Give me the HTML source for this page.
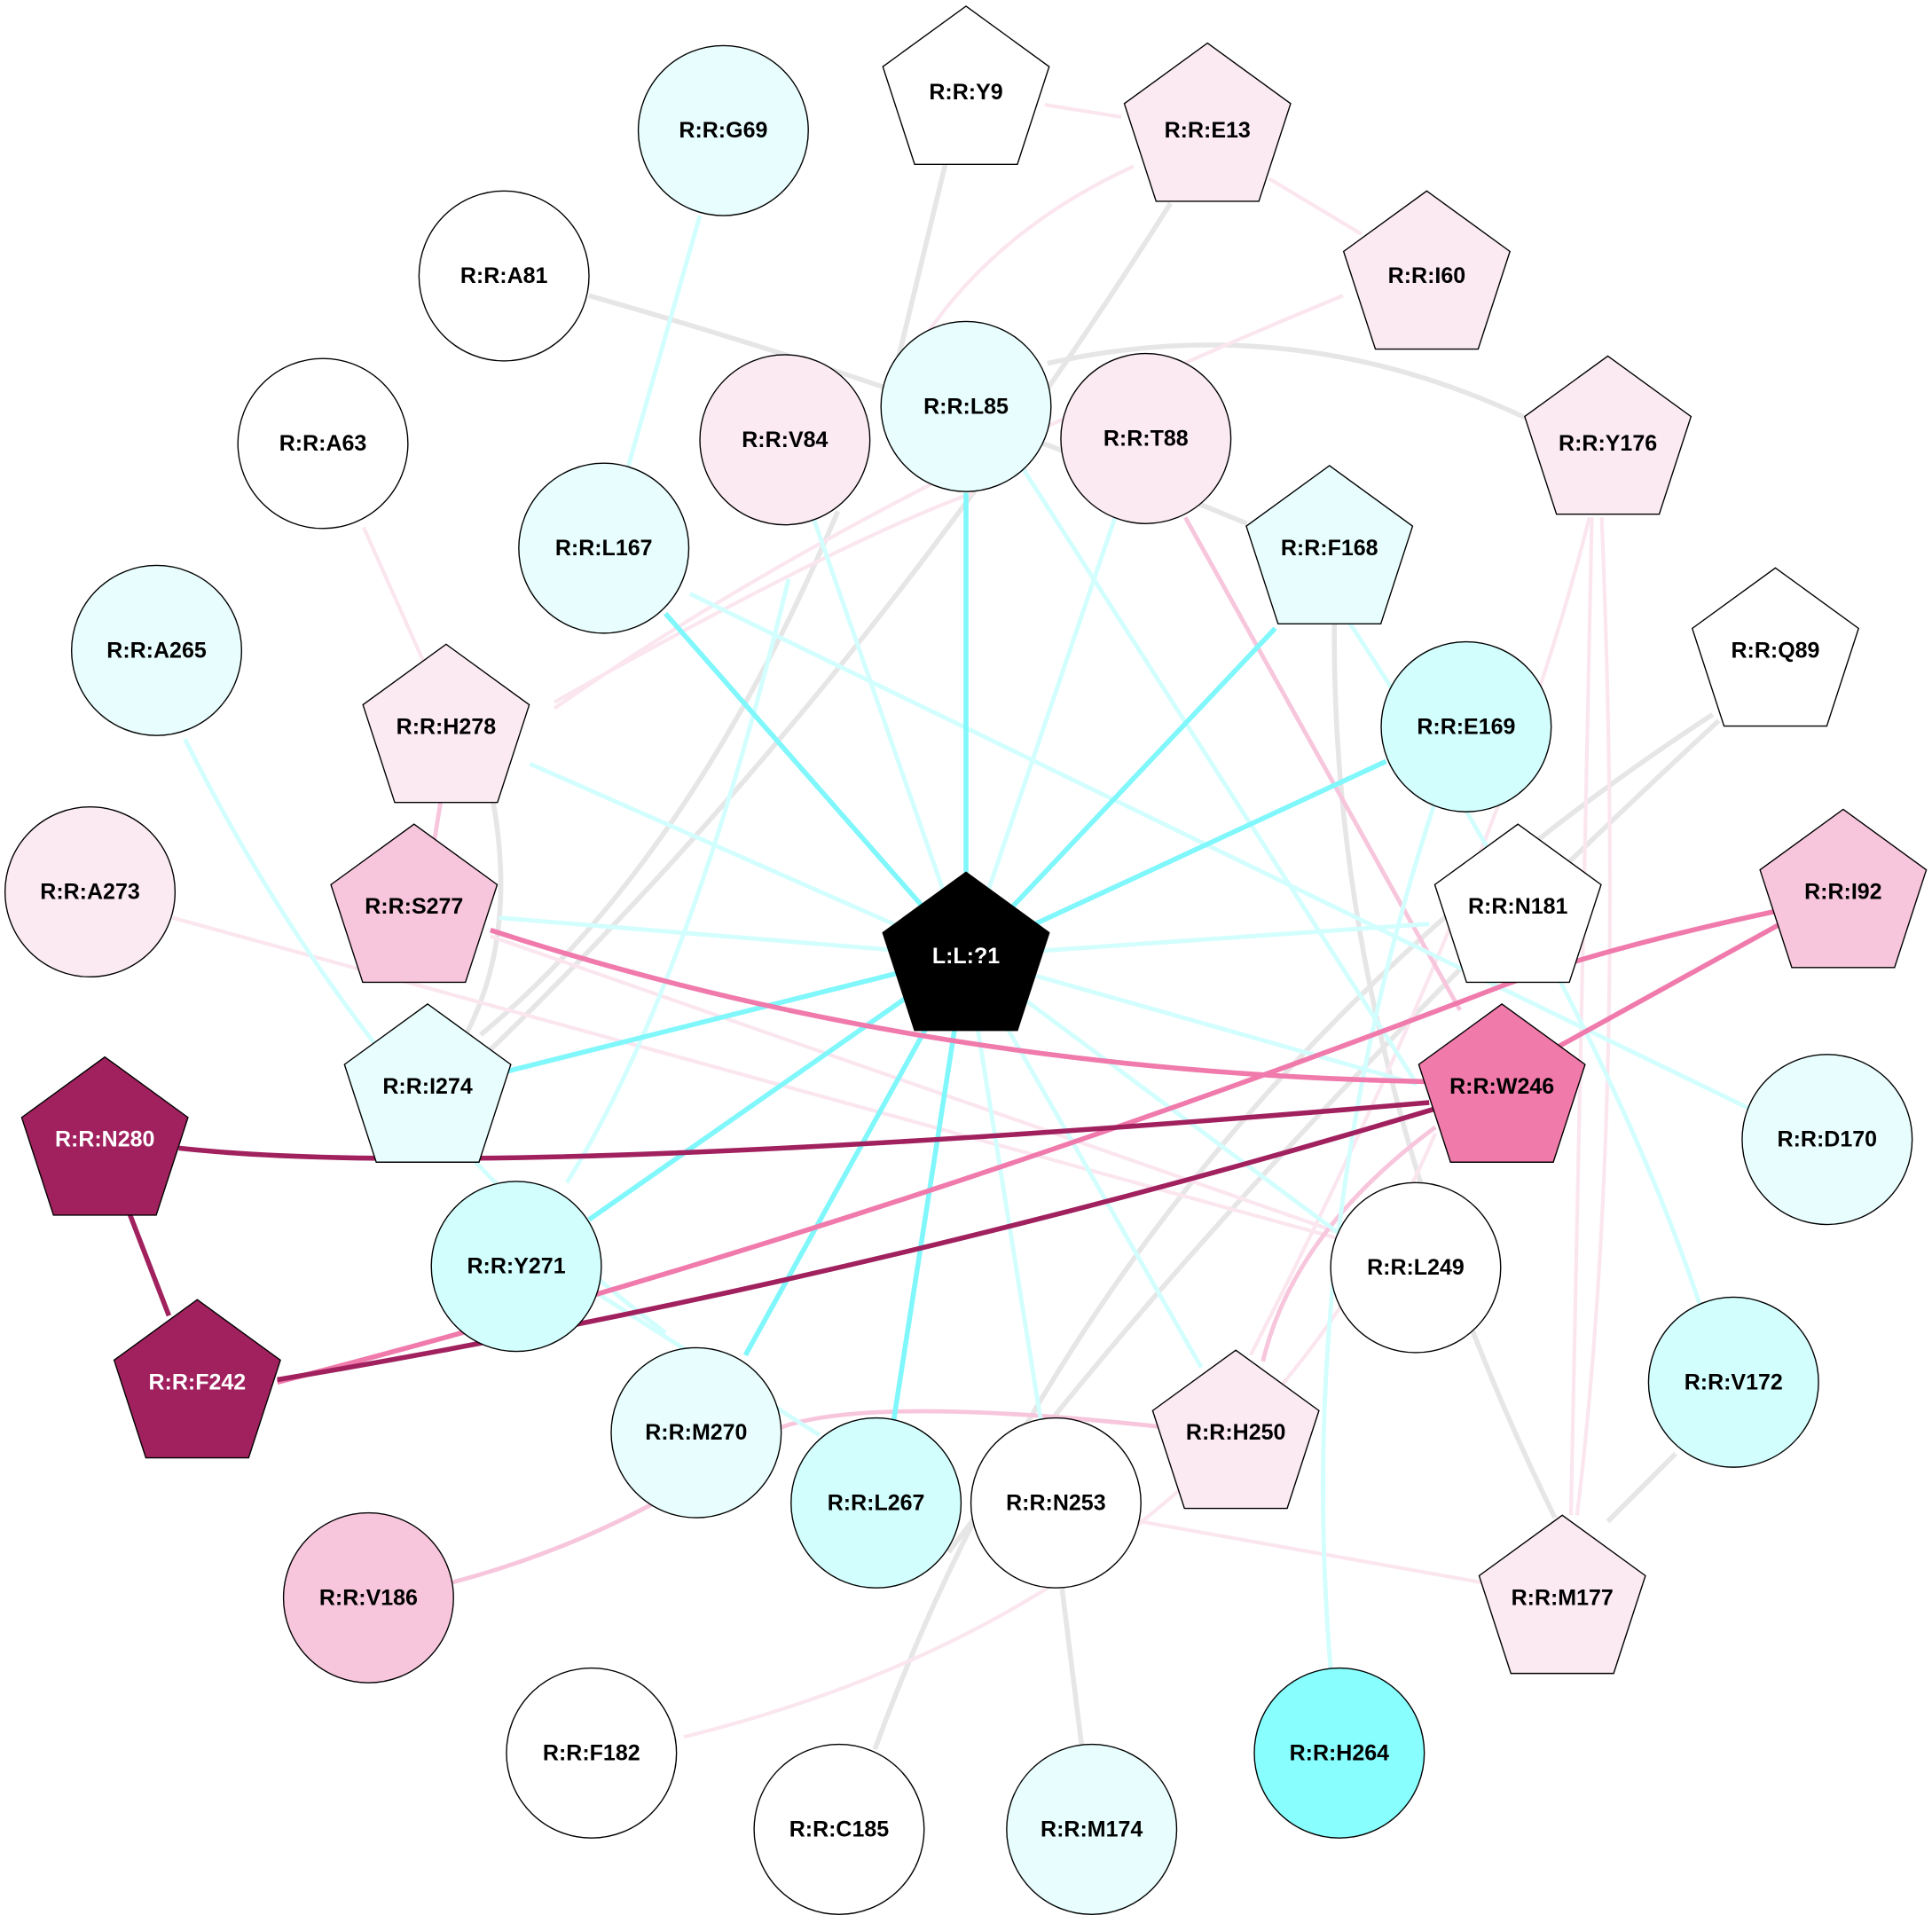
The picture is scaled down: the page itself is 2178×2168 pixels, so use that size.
<!DOCTYPE html>
<html><head><style>html,body{margin:0;padding:0;background:#fff}svg{display:block}</style></head>
<body>
<svg width="2178" height="2168" viewBox="0 0 1568 1561" xmlns="http://www.w3.org/2000/svg" font-family="Liberation Sans, Arial, sans-serif" font-weight="bold" font-size="18">
<g fill="none" stroke-width="3">
<!-- gray -->
<g stroke="#e6e6e6" stroke-width="4">
<path d="M768,130 L722,320"/>
<path d="M950,165 Q700,560 395,855"/>
<path d="M680,415 Q560,700 390,840"/>
<path d="M478,240 Q760,320 1012,425"/>
<path d="M850,295 Q1050,250 1240,340"/>
<path d="M1083,505 Q1080,860 1262,1232"/>
<path d="M1390,580 Q900,900 710,1420"/>
<path d="M1395,585 Q1000,950 770,1260"/>
<path d="M400,650 Q420,760 378,840"/>
<path d="M862,1290 L878,1418"/>
<path d="M1360,1180 L1305,1235"/>
</g>
<!-- light pink -->
<g stroke="#fbe6ef" stroke-width="3">
<path d="M848,85 L910,95"/>
<path d="M1030,145 L1105,190"/>
<path d="M920,135 Q800,190 740,290"/>
<path d="M450,570 Q680,440 790,400"/>
<path d="M450,575 Q700,400 1090,240"/>
<path d="M295,428 L345,540"/>
<path d="M140,745 L1085,1005"/>
<path d="M398,760 L1085,1000"/>
<path d="M1292,420 L1275,1230"/>
<path d="M1300,420 Q1320,900 1280,1230"/>
<path d="M1290,420 Q1220,700 1015,1100"/>
<path d="M555,1410 Q1000,1300 1165,920"/>
<path d="M925,1235 L1205,1285"/>
</g>
<g stroke="#f7c6dc" stroke-width="3.5">
<path d="M962,420 L1185,820"/>
<path d="M358,648 L352,685"/>
<path d="M1165,915 Q1050,1000 1025,1105"/>
<path d="M365,1285 Q500,1250 620,1165 Q680,1130 940,1158"/>
</g>
<!-- cyan -->
<g stroke="#d2fefe" stroke-width="3.5">
<path d="M784,776 L660,420"/>
<path d="M784,776 L905,420"/>
<path d="M784,776 L430,620"/>
<path d="M784,776 L405,745"/>
<path d="M784,776 L1160,750"/>
<path d="M784,776 L1150,880"/>
<path d="M784,776 L1085,1000"/>
<path d="M784,776 L975,1110"/>
<path d="M784,776 L845,1155"/>
<path d="M560,482 L1420,900"/>
<path d="M830,380 L1150,880"/>
<path d="M1095,505 Q1300,820 1380,1060"/>
<path d="M1165,650 Q1050,1000 1080,1355"/>
<path d="M568,175 L510,378"/>
<path d="M150,600 Q300,900 540,1082"/>
<path d="M485,1050 L665,1165"/>
<path d="M640,470 Q560,800 460,960"/>
</g>
<g stroke="#80f7fb" stroke-width="4">
<path d="M784,776 L540,498"/>
<path d="M784,776 L784,400"/>
<path d="M784,776 L1035,510"/>
<path d="M784,776 L1125,618"/>
<path d="M784,776 L410,870"/>
<path d="M784,776 L478,990"/>
<path d="M784,776 L605,1100"/>
<path d="M784,776 L725,1155"/>
</g>
<!-- strong pink -->
<g stroke="#ef7aab" stroke-width="4">
<path d="M398,755 Q750,870 1158,878"/>
<path d="M1440,740 Q1300,770 1220,800 Q700,1000 225,1122"/>
<path d="M1445,750 L1255,855"/>
</g>
<g stroke="#a0215e" stroke-width="4">
<path d="M145,932 Q400,960 1160,895"/>
<path d="M1165,900 Q700,1040 225,1120"/>
<path d="M105,985 L137,1068"/>
</g>
</g>
<!-- nodes -->
<g stroke="#000" stroke-width="1">
<g id="circles">
<circle cx="587" cy="106" r="69" fill="#e8fefe"/>
<circle cx="409" cy="224" r="69" fill="#fff"/>
<circle cx="262" cy="360" r="69" fill="#fff"/>
<circle cx="637" cy="357" r="69" fill="#fbeaf2"/>
<circle cx="784" cy="330" r="69" fill="#e8fefe"/>
<circle cx="930" cy="356" r="69" fill="#fbeaf2"/>
<circle cx="490" cy="445" r="69" fill="#e8fefe"/>
<circle cx="127" cy="528" r="69" fill="#e8fefe"/>
<circle cx="1190" cy="590" r="69" fill="#d2fefe"/>
<circle cx="73" cy="724" r="69" fill="#fbeaf2"/>
<circle cx="1483" cy="925" r="69" fill="#e8fefe"/>
<circle cx="419" cy="1028" r="69" fill="#d2fefe"/>
<circle cx="1149" cy="1029" r="69" fill="#fff"/>
<circle cx="1407" cy="1122" r="69" fill="#d2fefe"/>
<circle cx="565" cy="1163" r="69" fill="#e8fefe"/>
<circle cx="711" cy="1220" r="69" fill="#d2fefe"/>
<circle cx="857" cy="1220" r="69" fill="#fff"/>
<circle cx="299" cy="1297" r="69" fill="#f7c6dc"/>
<circle cx="480" cy="1423" r="69" fill="#fff"/>
<circle cx="681" cy="1485" r="69" fill="#fff"/>
<circle cx="886" cy="1485" r="69" fill="#e8fefe"/>
<circle cx="1087" cy="1423" r="69" fill="#88fefe"/>
</g>
<defs><polygon id="p" points="0,-71 67.5,-21.9 41.7,57.4 -41.7,57.4 -67.5,-21.9"/></defs>
<use href="#p" x="784" y="76" fill="#fff"/>
<use href="#p" x="980" y="106" fill="#fbeaf2"/>
<use href="#p" x="1158" y="226" fill="#fbeaf2"/>
<use href="#p" x="1305" y="360" fill="#fbeaf2"/>
<use href="#p" x="1079" y="449" fill="#e8fefe"/>
<use href="#p" x="1441" y="532" fill="#fff"/>
<use href="#p" x="362" y="594" fill="#fbeaf2"/>
<use href="#p" x="336" y="740" fill="#f7c6dc"/>
<use href="#p" x="1232" y="740" fill="#fff"/>
<use href="#p" x="1496" y="728" fill="#f7c6dc"/>
<use href="#p" x="784" y="779" fill="#000"/>
<use href="#p" x="347" y="886" fill="#e8fefe"/>
<use href="#p" x="1219" y="886" fill="#f07aaa"/>
<use href="#p" x="85" y="929" fill="#a0215e"/>
<use href="#p" x="160" y="1126" fill="#a0215e"/>
<use href="#p" x="1003" y="1167" fill="#fbeaf2"/>
<use href="#p" x="1268" y="1301" fill="#fbeaf2"/>
</g>
<g text-anchor="middle" dominant-baseline="central" fill="#000">
<text x="587" y="106">R:R:G69</text>
<text x="409" y="224">R:R:A81</text>
<text x="262" y="360">R:R:A63</text>
<text x="637" y="357">R:R:V84</text>
<text x="784" y="330">R:R:L85</text>
<text x="930" y="356">R:R:T88</text>
<text x="490" y="445">R:R:L167</text>
<text x="127" y="528">R:R:A265</text>
<text x="1190" y="590">R:R:E169</text>
<text x="73" y="724">R:R:A273</text>
<text x="1483" y="925">R:R:D170</text>
<text x="419" y="1028">R:R:Y271</text>
<text x="1149" y="1029">R:R:L249</text>
<text x="1407" y="1122">R:R:V172</text>
<text x="565" y="1163">R:R:M270</text>
<text x="711" y="1220">R:R:L267</text>
<text x="857" y="1220">R:R:N253</text>
<text x="299" y="1297">R:R:V186</text>
<text x="480" y="1423">R:R:F182</text>
<text x="681" y="1485">R:R:C185</text>
<text x="886" y="1485">R:R:M174</text>
<text x="1087" y="1423">R:R:H264</text>
<text x="784" y="75">R:R:Y9</text>
<text x="980" y="106">R:R:E13</text>
<text x="1158" y="224">R:R:I60</text>
<text x="1305" y="360">R:R:Y176</text>
<text x="1079" y="445">R:R:F168</text>
<text x="1441" y="528">R:R:Q89</text>
<text x="362" y="590">R:R:H278</text>
<text x="336" y="736">R:R:S277</text>
<text x="1232" y="736">R:R:N181</text>
<text x="1496" y="724">R:R:I92</text>
<text x="784" y="776" fill="#fff">L:L:?1</text>
<text x="347" y="882">R:R:I274</text>
<text x="1219" y="882">R:R:W246</text>
<text x="85" y="925" fill="#fff">R:R:N280</text>
<text x="160" y="1122" fill="#fff">R:R:F242</text>
<text x="1003" y="1163">R:R:H250</text>
<text x="1268" y="1297">R:R:M177</text>
</g>
</svg>
</body></html>
